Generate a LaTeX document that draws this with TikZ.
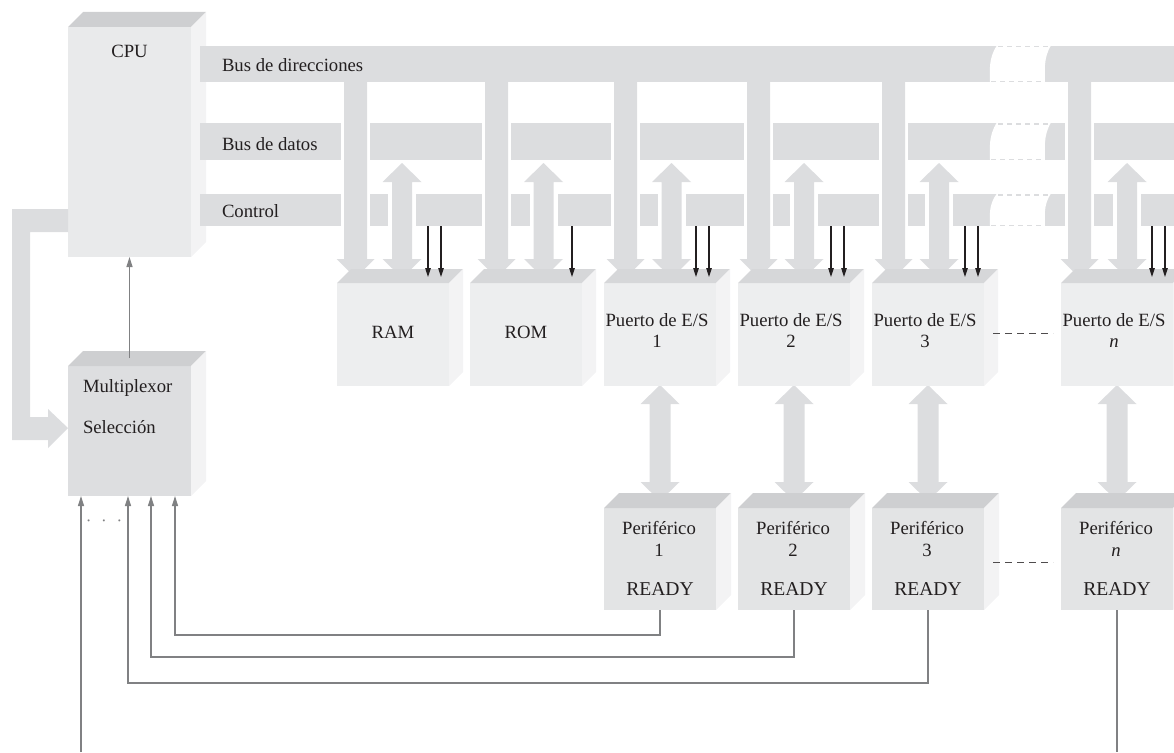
\documentclass[tikz,border=0pt]{standalone}
\usepackage{fontspec}
\setmainfont{Liberation Serif}
\usetikzlibrary{arrows.meta,calc}
\definecolor{busgray}{RGB}{220,221,223}
\definecolor{topgray}{RGB}{214,215,217}
\definecolor{topdark}{RGB}{206,207,209}
\definecolor{sidegray}{RGB}{243,243,244}
\definecolor{cpufront}{RGB}{233,234,235}
\definecolor{portfront}{RGB}{237,238,239}
\definecolor{perfront}{RGB}{227,228,229}
\definecolor{muxfront}{RGB}{221,222,224}
\definecolor{linegray}{RGB}{128,129,131}
\definecolor{inkc}{RGB}{35,31,32}
\newcommand\figfont{\fontsize{18.7}{21}\selectfont}
\newcommand\readyfont{\fontsize{19.6}{22}\selectfont}
\newcommand\cubefaces[3]{%
  \fill[#3] (#1.north west) -- ++(#2,-#2) -- ($(#1.north east)+(#2,-#2)$) -- (#1.north east) -- cycle;
  \fill[sidegray] (#1.north east) -- ++(#2,-#2) -- ($(#1.south east)+(#2,-#2)$) -- (#1.south east) -- cycle;}
\begin{document}
\begin{tikzpicture}[x=1pt,y=-1pt,
  box/.style={inner sep=0pt,outer sep=0pt,minimum width=112pt,minimum height=103pt,anchor=north west},
  txt/.style={inner sep=0pt,outer sep=0pt,font=\figfont,text=inkc},
  ctl/.style={draw=inkc,line width=1.1pt,-{Triangle[length=9pt,width=5.5pt]}},
  sig/.style={draw=linegray,line width=1.2pt,-{Triangle[length=10pt,width=6pt]}},
  sigline/.style={draw=linegray,line width=1.2pt},
  dashl/.style={draw=inkc!80,line width=1pt,dash pattern=on 7pt off 5pt},
  bus/.style={fill=busgray}]
\useasboundingbox (0,0) rectangle (1174,752);
\clip (0,0) rectangle (1174,752);

% CPU and multiplexor
\node[box,fill=cpufront,minimum width=123pt,minimum height=230pt] (cpu) at (68,27) {};
\cubefaces{cpu}{15}{topdark}
\node[box,fill=muxfront,minimum width=123pt,minimum height=130pt] (mux) at (68,366) {};
\cubefaces{mux}{15}{topdark}

% buses
\fill[bus] (200,46) rectangle (1174,82);
\fill[bus] (200,123) rectangle (1174,160);
\fill[bus] (200,194) rectangle (1174,226);
\node[txt,anchor=base west] (lbla) at (222,71) {Bus de direcciones};
\node[txt,anchor=base west] (lbld) at (222,150) {Bus de datos};
\node[txt,anchor=base west] (lblc) at (222,217) {Control};

% address taps
\foreach \c in {355.5,496.5,625.5,758.5,893.5,1079.5} {
  \fill[white] (\c-14.5,121) rectangle (\c+14.5,228);
  \fill[bus] (\c-11.5,80) -- (\c+11.5,80) -- (\c+11.5,259) -- (\c+19,259) -- (\c,278) -- (\c-19,259) -- (\c-11.5,259) -- cycle;
}
% data taps
\foreach \c in {402,543.5,671.5,804,939,1127} {
  \fill[white] (\c-14,192) rectangle (\c+14,228);
  \fill[bus] (\c,163) -- (\c+19.5,182) -- (\c+10,182) -- (\c+10,259) -- (\c+19.5,259) -- (\c,278) -- (\c-19.5,259) -- (\c-10,259) -- (\c-10,182) -- (\c-19.5,182) -- cycle;
}
% bus breaks
\foreach \ya/\yb in {46/82,123/160,194/226} {
  \fill[white] (997,\ya-0.6) .. controls (988,{\ya+0.35*(\yb-\ya)}) and (990,{\ya+0.7*(\yb-\ya)}) .. (990,\yb+0.6)
     -- (1045,\yb+0.6) .. controls (1045,{\ya+0.7*(\yb-\ya)}) and (1043,{\ya+0.35*(\yb-\ya)}) .. (1051,\ya-0.6) -- cycle;
  \draw[busgray,line width=1.4pt,dash pattern=on 5pt off 4pt] (998,\ya+0.8) -- (1049,\ya+0.8);
  \draw[busgray,line width=1.4pt,dash pattern=on 5pt off 4pt] (991,\yb-0.8) -- (1045,\yb-0.8);
}

% L-shaped arrow CPU -> multiplexor
\fill[bus] (68,209) -- (12,209) -- (12,440) -- (48,440) -- (48,448) -- (68,428) -- (48,409) -- (48,417) -- (30,417) -- (30,232) -- (68,232) -- cycle;

% port <-> peripheral arrows
\foreach \c in {660,794,928,1117} {
  \fill[bus] (\c,385) -- (\c+19.5,404) -- (\c+10.5,404) -- (\c+10.5,482) -- (\c+19.5,482) -- (\c,501) -- (\c-19.5,482) -- (\c-10.5,482) -- (\c-10.5,404) -- (\c-19.5,404) -- cycle;
}

% memory boxes
\node[box,fill=portfront] (ram) at (337,283) {};
\cubefaces{ram}{14}{topgray}
\node[txt,anchor=base] (ramt) at ($(ram.north)+(0,55)$) {RAM};
\node[box,fill=portfront] (rom) at (470,283) {};
\cubefaces{rom}{14}{topgray}
\node[txt,anchor=base] (romt) at ($(rom.north)+(0,55)$) {ROM};

% I/O ports
\foreach \nm/\xl/\lab in {pu1/604/1,pu2/738/2,pu3/872/3,pun/1061/\textit{n}} {
  \node[box,fill=portfront] (\nm) at (\xl,283) {};
  \cubefaces{\nm}{14}{topgray}
  \node[txt,anchor=base] (\nm-a) at ($(\nm.north)+(-3,43)$) {Puerto de E/S};
  \node[txt,anchor=base] (\nm-b) at ($(\nm.north)+(-3,64)$) {\lab};
}

% peripherals
\foreach \nm/\xl/\lab in {pe1/604/1,pe2/738/2,pe3/872/3,pen/1061/\textit{n}} {
  \node[box,fill=perfront,minimum height=102pt] (\nm) at (\xl,508) {};
  \cubefaces{\nm}{15}{topdark}
  \node[txt,anchor=base] (\nm-a) at ($(\nm.north)+(-1,26)$) {Periférico};
  \node[txt,anchor=base] (\nm-b) at ($(\nm.north)+(-1,48)$) {\lab};
  \node[txt,anchor=base,font=\readyfont] (\nm-c) at ($(\nm.north)+(0,87)$) {READY};
}

% control lines
\foreach \x in {428,441,572,696,709,831,844,965,978,1152,1165}
  \draw[ctl] (\x,226) -- (\x,277);

% texts in CPU and multiplexor
\node[txt,anchor=base] (cput) at (129.5,58) {CPU};
\node[txt,anchor=base west] (muxa) at (83,392) {Multiplexor};
\node[txt,anchor=base west] (muxb) at (83,433) {Selección};

% signal lines
\draw[sig] ([yshift=8pt]mux.north) -- (cpu.south);
\draw[sig] (pe1.south) -- ++(0,25) -| ($(mux.south west)+(107,0)$);
\draw[sig] (pe2.south) -- ++(0,47) -| ($(mux.south west)+(83,0)$);
\draw[sig] (pe3.south) -- ++(0,73) -| ($(mux.south west)+(60,0)$);
\coordinate (penend) at (1117,752);
\draw[sigline] (pen.south) -- (penend);
\coordinate (muxin) at (81,752);
\draw[sig] (muxin) -- (muxin |- mux.south);
\node[txt,text=linegray,font=\fontsize{17}{17}\selectfont] (dots) at (104,523) {·\hspace{9.7pt}·\hspace{9.7pt}·};

% ellipsis dashes
\draw[dashl] ([xshift=9pt,yshift=1.5pt]pu3.east) -- ([xshift=-8pt,yshift=1.5pt]pun.west);
\draw[dashl] ([xshift=9pt,yshift=-3pt]pe3.east) -- ([xshift=-8pt,yshift=-3pt]pen.west);
\end{tikzpicture}
\end{document}
